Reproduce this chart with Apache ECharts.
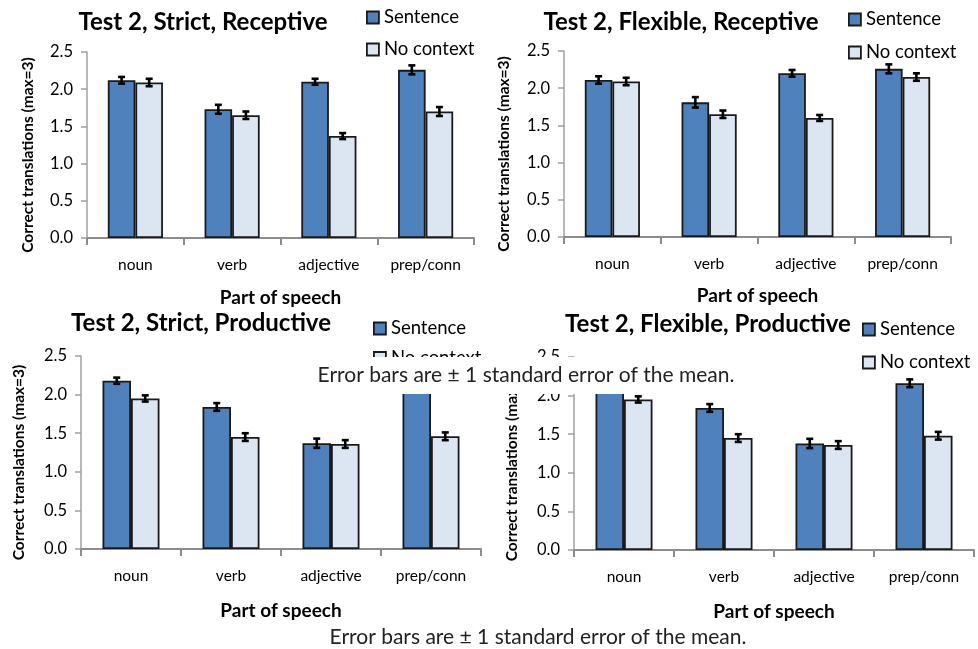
<!DOCTYPE html>
<html><head><meta charset="utf-8">
<script src="https://cdn.jsdelivr.net/npm/echarts@6/dist/echarts.min.js"></script>
<style>html,body{margin:0;padding:0;background:#fff}#c{width:978px;height:649px}</style>
</head><body><div id="c"></div>
<script>
// ---------- data ----------
const categories = ['noun', 'verb', 'adjective', 'prep/conn'];
const seriesNames = ['Sentence', 'No context'];
const panelTitles = ['Test 2, Strict, Receptive', 'Test 2, Flexible, Receptive', 'Test 2, Strict, Productive', 'Test 2, Flexible, Productive'];
const yAxisTitle = 'Correct translations (max=3)';
const xAxisTitle = 'Part of speech';
const noteText = 'Error bars are \u00b1 1 standard error of the mean.';
const yMin = 0, yMax = 2.5, yStep = 0.5;

const strictRecSentence = [2.12, 1.73, 2.10, 2.26];
const strictRecSentenceErr = [0.045, 0.06, 0.04, 0.06];
const strictRecNoContext = [2.09, 1.65, 1.37, 1.70];
const strictRecNoContextErr = [0.05, 0.05, 0.04, 0.06];

const flexRecSentence = [2.11, 1.81, 2.20, 2.26];
const flexRecSentenceErr = [0.05, 0.07, 0.045, 0.06];
const flexRecNoContext = [2.09, 1.65, 1.60, 2.15];
const flexRecNoContextErr = [0.05, 0.05, 0.04, 0.05];

const strictProdSentence = [2.18, 1.84, 1.37, 2.17];
const strictProdSentenceErr = [0.04, 0.05, 0.06, 0.05];
const strictProdNoContext = [1.95, 1.45, 1.36, 1.46];
const strictProdNoContextErr = [0.04, 0.05, 0.05, 0.05];

const flexProdSentence = [2.19, 1.84, 1.38, 2.16];
const flexProdSentenceErr = [0.04, 0.05, 0.06, 0.05];
const flexProdNoContext = [1.95, 1.45, 1.36, 1.48];
const flexProdNoContextErr = [0.04, 0.05, 0.05, 0.05];

const panels = [
  [strictRecSentence, strictRecSentenceErr, strictRecNoContext, strictRecNoContextErr],
  [flexRecSentence, flexRecSentenceErr, flexRecNoContext, flexRecNoContextErr],
  [strictProdSentence, strictProdSentenceErr, strictProdNoContext, strictProdNoContextErr],
  [flexProdSentence, flexProdSentenceErr, flexProdNoContext, flexProdNoContextErr]
];

// ---------- layout / style ----------
const FONT = 'Lato, "Open Sans", sans-serif';
const colors = ['#4F81BD', '#DCE6F2'];
const grids = [
  {left: 87, top: 52, width: 387, height: 186},
  {left: 564, top: 51, width: 387, height: 186},
  {left: 81, top: 356, width: 400, height: 193},
  {left: 574, top: 357, width: 400, height: 193}
];
const titlePos = [[203, 22], [681, 22], [201, 323], [708, 324]];
const legendPos = [
  {left: 366, top: 8, itemGap: 13},
  {left: 848, top: 10, itemGap: 14},
  {left: 373, top: 319, itemGap: 10.5},
  {left: 862, top: 320, itemGap: 14}
];
const yNameGap = [51, 52, 54, 54];
const xNameGap = [50, 49, 52, 52];
const CAT_GAP = 0.43;

function errRender(sign) {
  return function (params, api) {
    const x = api.value(0), v = api.value(1), e = api.value(2);
    const base = api.coord([x, v]);
    const catW = api.size([1, 0])[0];
    const barW = catW * (1 - CAT_GAP) / 2;
    const cx = base[0] + sign * barW / 2;
    const top = api.coord([x, v + e])[1];
    const bot = api.coord([x, v - e])[1];
    const cap = 3.5;
    const st = {stroke: '#000', lineWidth: 2.6};
    return {type: 'group', children: [
      {type: 'line', shape: {x1: cx, y1: top, x2: cx, y2: bot}, style: st},
      {type: 'line', shape: {x1: cx - cap, y1: top, x2: cx + cap, y2: top}, style: st},
      {type: 'line', shape: {x1: cx - cap, y1: bot, x2: cx + cap, y2: bot}, style: st}
    ]};
  };
}

const xAxes = [], yAxes = [], series = [], legends = [], graphics = [];
grids.forEach((g, i) => {
  xAxes.push({
    type: 'category', gridIndex: i, data: categories,
    name: xAxisTitle, nameLocation: 'middle', nameGap: xNameGap[i],
    nameTextStyle: {fontFamily: FONT, fontWeight: 'bold', fontSize: 19, color: '#000'},
    axisLine: {lineStyle: {color: '#8c8c8c', width: 2}},
    axisTick: {show: true, length: 7, lineStyle: {color: '#8c8c8c', width: 2}},
    axisLabel: {fontFamily: FONT, fontSize: 15.5, color: '#000', margin: 19}
  });
  yAxes.push({
    type: 'value', gridIndex: i, min: yMin, max: yMax, interval: yStep,
    name: yAxisTitle, nameLocation: 'middle', nameGap: yNameGap[i], nameRotate: 90,
    nameTextStyle: {fontFamily: FONT, fontWeight: 'bold', fontSize: 15.5, color: '#000',
      padding: [0, 20, 0, 0]},
    axisLine: {show: true, lineStyle: {color: '#a0a0a0', width: 1.5}},
    axisTick: {show: true, length: 6, lineStyle: {color: '#a0a0a0', width: 1.5}},
    splitLine: {show: false},
    axisLabel: {fontFamily: FONT, fontSize: 16.5, color: '#000', margin: 14,
      formatter: v => v.toFixed(1)}
  });
  const p = panels[i];
  [0, 1].forEach(k => {
    series.push({
      type: 'bar', name: seriesNames[k], xAxisIndex: i, yAxisIndex: i,
      data: p[k * 2], barGap: '0%', barCategoryGap: (CAT_GAP * 100) + '%',
      itemStyle: {color: colors[k], borderColor: '#1a1a1a', borderWidth: 1.8},
      emphasis: {disabled: true}, z: 2
    });
  });
  [0, 1].forEach(k => {
    series.push({
      type: 'custom', name: seriesNames[k] + ' error', xAxisIndex: i, yAxisIndex: i,
      renderItem: errRender(k === 0 ? -1 : 1),
      data: p[k * 2].map((v, j) => [j, v, p[k * 2 + 1][j]]),
      encode: {x: 0, y: 1}, z: 5, silent: true
    });
  });
  legends.push({
    orient: 'vertical', left: legendPos[i].left, top: legendPos[i].top, padding: 0,
    itemGap: legendPos[i].itemGap, itemWidth: 12, itemHeight: 12, icon: 'rect',
    data: seriesNames, selectedMode: false,
    textStyle: {fontFamily: FONT, fontSize: 18.5, lineHeight: 18.5, color: '#000'},
    itemStyle: {borderColor: '#1a1a1a', borderWidth: 1.8}
  });
  graphics.push({
    type: 'text', x: titlePos[i][0], y: titlePos[i][1], z: 10,
    style: {text: panelTitles[i], font: 'bold 24px ' + FONT, fill: '#000',
      align: 'center', verticalAlign: 'middle', textAlign: 'center', textVerticalAlign: 'middle'}
  });
});

// overlay note box and bottom note
graphics.push({type: 'rect', z: 100, shape: {x: 300, y: 357, width: 460, height: 37}, style: {fill: '#fff'}});
graphics.push({type: 'text', z: 101, x: 526, y: 375,
  style: {text: noteText, font: '21px ' + FONT, fill: '#222',
    align: 'center', verticalAlign: 'middle', textAlign: 'center', textVerticalAlign: 'middle'}});
graphics.push({type: 'text', z: 101, x: 538, y: 637,
  style: {text: noteText, font: '21px ' + FONT, fill: '#222',
    align: 'center', verticalAlign: 'middle', textAlign: 'center', textVerticalAlign: 'middle'}});

const chart = echarts.init(document.getElementById('c'), null, {renderer: 'canvas'});
chart.setOption({
  animation: false,
  backgroundColor: '#fff',
  grid: grids.map(g => Object.assign({containLabel: false}, g)),
  xAxis: xAxes, yAxis: yAxes, series: series, legend: legends,
  graphic: {elements: graphics}
});
</script></body></html>
